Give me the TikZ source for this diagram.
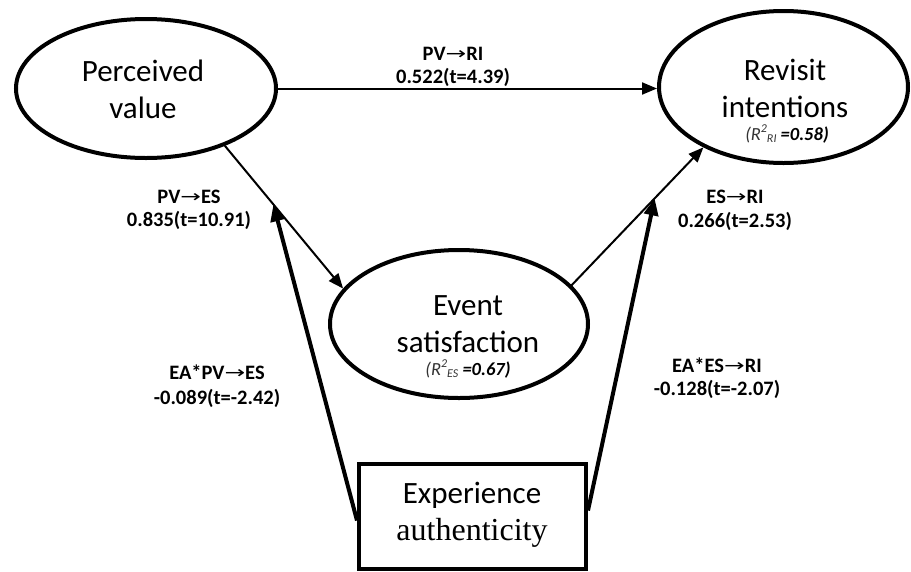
\documentclass[tikz,border=0pt]{standalone}
\usepackage{fontspec}
\usepackage{graphicx}
\setmainfont{Carlito}
\newfontfamily\serifface{Liberation Serif}
\newfontfamily\arrowface{DejaVu Sans}
\usetikzlibrary{arrows.meta,shapes.geometric}
\tikzset{
  construct/.style={draw, ellipse, line width=4pt, inner sep=0pt},
  modbox/.style={draw, rectangle, line width=4pt, inner sep=0pt},
  bigtext/.style={anchor=base, inner sep=0pt, font=\fontsize{31}{36}\selectfont},
  coef/.style={anchor=base, inner sep=0pt, font=\fontsize{20.5}{24}\selectfont\bfseries},
  rsq/.style={anchor=base, inner sep=0pt, font=\fontsize{18.5}{22}\selectfont\itshape},
  path thin/.style={line width=2pt, -{Triangle[length=15pt,width=12pt]}},
  path thick/.style={line width=4pt, -{Triangle[length=17pt,width=14pt]}},
}
\newcommand{\rarr}{{\arrowface\mdseries\fontsize{17}{20}\selectfont\raisebox{1pt}{\scalebox{1.45}[1]{→}}}}
\newcommand{\rsup}{\raisebox{0.42em}{\fontsize{12}{12}\selectfont 2}}
\newcommand{\rsub}[1]{\raisebox{-0.15em}{\fontsize{12}{12}\selectfont #1}}
\begin{document}
\begin{tikzpicture}[x=1pt,y=-1pt]
\useasboundingbox (0,0) rectangle (911,571);

% constructs
\node[construct, minimum width=260pt, minimum height=139pt] (pv) at (146,88.5) {};
\node[construct, minimum width=249pt, minimum height=152pt] (ri) at (783.5,87) {};
\node[construct, minimum width=258pt, minimum height=148pt] (es) at (459,324) {};
\node[modbox, minimum width=227pt, minimum height=105pt] (ea) at (472.5,516.5) {};

% construct texts
\node[bigtext] (pvt1) at (143,81) {Perceived};
\node[bigtext] (pvt2) at (143,118) {value};
\node[bigtext] (rit1) at (785,80) {Revisit};
\node[bigtext] (rit2) at (785,117) {intentions};
\node[rsq] (rir) at (787,140) {{\color{black!80}(R\rsup\rsub{RI}} \textbf{=0.58)}};
\node[bigtext] (est1) at (468,315) {Event};
\node[bigtext] (est2) at (468,352) {satisfaction};
\node[rsq] (esr) at (468,375) {{\color{black!80}(R\rsup\rsub{ES}} \textbf{=0.67)}};
\node[bigtext] (eat1) at (472,503) {Experience};
\node[bigtext, font=\serifface\fontsize{32}{36}\selectfont] (eat2) at (472,540) {authenticity};

% paths
\draw[path thin] (pv.east) -- (pv.east -| ri.west);
\draw[path thin] (pv.-36.3) -- (es.163) coordinate[pos=0.41] (m1);
\draw[path thin] (es.19) -- (ri.-143) coordinate[pos=0.63] (m2);
\draw[path thick] ([yshift=-4pt]ea.west) -- (m1);
\draw[path thick] ([yshift=6pt]ea.east) -- (m2);

% coefficient labels
\node[coef] (c1a) at (453,60) {PV\rarr RI};
\node[coef] (c1b) at (453,83) {0.522(t=4.39)};
\node[coef] (c2a) at (189,203) {PV\rarr ES};
\node[coef] (c2b) at (189,226) {0.835(t=10.91)};
\node[coef] (c3a) at (735,203) {ES\rarr RI};
\node[coef] (c3b) at (735,227) {0.266(t=2.53)};
\node[coef] (c4a) at (217,379) {EA*PV\rarr ES};
\node[coef] (c4b) at (217,404) {-0.089(t=-2.42)};
\node[coef] (c5a) at (717,372) {EA*ES\rarr RI};
\node[coef] (c5b) at (717,395) {-0.128(t=-2.07)};
\end{tikzpicture}
\end{document}
